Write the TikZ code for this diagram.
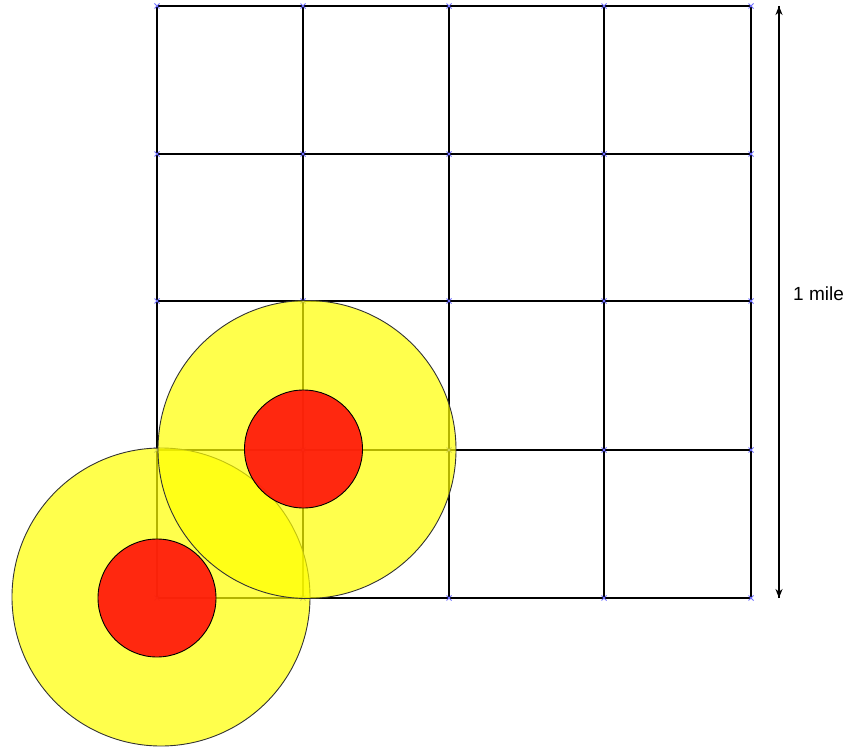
\documentclass[tikz,border=0pt]{standalone}
\usepackage{xcolor}
\usepackage{fontspec}
\setmainfont{Liberation Sans}
\usepackage{tikz}
\usetikzlibrary{arrows.meta, positioning}
\definecolor{zoneyellow}{RGB}{255,255,0}
\definecolor{corered}{RGB}{255,22,10}
\definecolor{markblue}{RGB}{110,110,255}
\tikzset{
  gridline/.style={line width=2.2pt, color=black},
  gridmark/.style={line width=0.8pt, color=markblue},
  zone/.style={circle, draw=black!80, fill=zoneyellow, fill opacity=0.7,
    minimum size=298pt, inner sep=0pt, line width=0.9pt},
  core/.style={circle, draw=black, fill=corered, fill opacity=0.92,
    minimum size=118pt, inner sep=0pt, line width=0.9pt},
  scalearrow/.style={-{Stealth[length=9pt, width=7pt]}, line width=2pt, color=black}
}

\begin{document}
\begin{tikzpicture}[x=1pt, y=-1pt]
  \useasboundingbox (0,0) rectangle (849,749);

  % Street grid (4 x 4 blocks)
  \foreach \x in {157, 303, 449, 604, 751} {
    \draw[gridline] (\x, 6) -- (\x, 598);
  }
  \foreach \y in {6, 154, 301, 450, 598} {
    \draw[gridline] (157, \y) -- (751, \y);
  }

  % Crossing marks at the intersections
  \foreach \x in {157, 303, 449, 604, 751} {
    \foreach \y in {6, 154, 301, 450, 598} {
      \draw[gridmark] (\x-2.5, \y-2.5) -- (\x+2.5, \y+2.5)
                      (\x-2.5, \y+2.5) -- (\x+2.5, \y-2.5);
    }
  }

  % Coverage zones (lower-left one first)
  \node[zone] (zoneB) at (161, 597) {};
  \node[core] (coreB) at (157, 598) {};
  \node[zone] (zoneA) at (307, 449.5) {};
  \node[core] (coreA) at (303.5, 449) {};

  % Scale bar
  \coordinate (scaletop) at (779, 6);
  \coordinate (scalebot) at (779, 598);
  \draw[scalearrow] (scalebot) -- (scaletop);
  \draw[scalearrow] (scaletop) -- (scalebot);
  \node[anchor=west, inner sep=0pt, font=\fontsize{19}{22}\selectfont] (scalelab) at (793, 294) {1 mile};
\end{tikzpicture}
\end{document}
